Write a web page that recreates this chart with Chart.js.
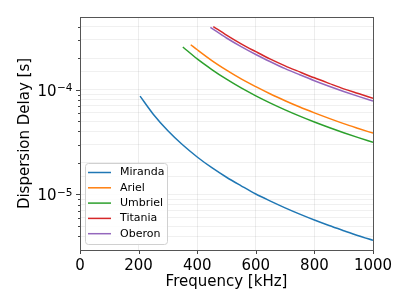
<!DOCTYPE html>
<html>
<head>
<meta charset="utf-8">
<script src="https://cdn.jsdelivr.net/npm/chart.js@4.4.1/dist/chart.umd.min.js"></script>
<style>
  html, body { margin: 0; padding: 0; background: #fff; }
</style>
</head>
<body>
<canvas id="chart" width="411" height="308"></canvas>
<script>
// values (frequency in kHz, delay in s)
const mirandaFreq  = [205, 250, 300, 350, 400, 450, 500, 550, 600, 650, 700, 750, 800, 850, 900, 950, 1000];
const mirandaDelay = [8.69e-5, 5.84e-5, 4.06e-5, 2.98e-5, 2.28e-5, 1.80e-5, 1.46e-5, 1.21e-5, 1.01e-5, 8.64e-6, 7.45e-6, 6.49e-6, 5.70e-6, 5.05e-6, 4.51e-6, 4.04e-6, 3.65e-6];

const arielFreq  = [378, 400, 450, 500, 550, 600, 650, 700, 750, 800, 850, 900, 950, 1000];
const arielDelay = [2.69e-4, 2.41e-4, 1.90e-4, 1.54e-4, 1.27e-4, 1.07e-4, 9.11e-5, 7.86e-5, 6.84e-5, 6.02e-5, 5.33e-5, 4.75e-5, 4.27e-5, 3.85e-5];

const umbrielFreq  = [351, 400, 450, 500, 550, 600, 650, 700, 750, 800, 850, 900, 950, 1000];
const umbrielDelay = [2.56e-4, 1.97e-4, 1.56e-4, 1.26e-4, 1.04e-4, 8.75e-5, 7.46e-5, 6.43e-5, 5.60e-5, 4.92e-5, 4.36e-5, 3.89e-5, 3.49e-5, 3.15e-5];

const titaniaFreq  = [455, 500, 550, 600, 650, 700, 750, 800, 850, 900, 950, 1000];
const titaniaDelay = [4.01e-4, 3.32e-4, 2.74e-4, 2.31e-4, 1.96e-4, 1.69e-4, 1.48e-4, 1.30e-4, 1.15e-4, 1.02e-4, 9.20e-5, 8.30e-5];

const oberonFreq  = [445, 500, 550, 600, 650, 700, 750, 800, 850, 900, 950, 1000];
const oberonDelay = [3.94e-4, 3.12e-4, 2.58e-4, 2.17e-4, 1.85e-4, 1.59e-4, 1.39e-4, 1.22e-4, 1.08e-4, 9.63e-5, 8.64e-5, 7.80e-5];

const moonNames = ["Miranda", "Ariel", "Umbriel", "Titania", "Oberon"];
const moonColors = ["#1f77b4", "#ff7f0e", "#2ca02c", "#d62728", "#9467bd"];

const xTicks = [0, 200, 400, 600, 800, 1000];
const yDecades = [-4, -5];   // labelled as 10^-4, 10^-5

const FONT = "'DejaVu Sans', sans-serif";

function pts(xs, ys) {
  return xs.map((x, i) => ({ x: x, y: ys[i] }));
}

const series = [
  pts(mirandaFreq, mirandaDelay),
  pts(arielFreq, arielDelay),
  pts(umbrielFreq, umbrielDelay),
  pts(titaniaFreq, titaniaDelay),
  pts(oberonFreq, oberonDelay)
];

function isDecade(v) {
  const e = Math.log10(v);
  return Math.abs(e - Math.round(e)) < 1e-6;
}
function isRoundMultiple(v) {
  const e = Math.floor(Math.log10(v) + 1e-9);
  const s = v / Math.pow(10, e);
  return Math.abs(s - Math.round(s)) < 1e-6;
}

// frame, tick marks, y tick labels and the legend box
const framePlugin = {
  id: "frame",
  afterDraw(chart) {
    const ctx = chart.ctx;
    const a = chart.chartArea;
    const xs = chart.scales.x, ys = chart.scales.y;
    ctx.save();
    ctx.strokeStyle = "#444";
    ctx.lineWidth = 1;
    // tick marks
    ctx.beginPath();
    xs.ticks.forEach(t => {
      const px = Math.round(xs.getPixelForValue(t.value)) + 0.5;
      ctx.moveTo(px, a.bottom);
      ctx.lineTo(px, a.bottom + 4);
    });
    ys.ticks.forEach(t => {
      if (!isRoundMultiple(t.value)) return;
      const py = Math.round(ys.getPixelForValue(t.value)) + 0.5;
      const len = isDecade(t.value) ? 4 : 2;
      ctx.moveTo(a.left, py);
      ctx.lineTo(a.left - len, py);
    });
    ctx.stroke();
    ctx.strokeStyle = "#555";
    ctx.strokeRect(Math.round(a.left) + 0.5, Math.round(a.top) + 0.5,
      Math.round(a.right - a.left), Math.round(a.bottom - a.top));

    // y tick labels: 10 with a superscript exponent
    ctx.fillStyle = "#000";
    ctx.textBaseline = "alphabetic";
    ctx.textAlign = "left";
    yDecades.forEach(e => {
      const py = ys.getPixelForValue(Math.pow(10, e));
      const sup = "\u2212" + Math.abs(e);
      ctx.font = "10.5px " + FONT;
      const supW = ctx.measureText(sup).width;
      ctx.font = "15px " + FONT;
      const baseW = ctx.measureText("10").width;
      const right = a.left - 8;
      const x0 = right - supW - baseW;
      ctx.fillText("10", x0, py + 6);
      ctx.font = "10.5px " + FONT;
      ctx.fillText(sup, x0 + baseW + 0.5, py + 1.3);
    });

    // legend
    const lx = a.left + 5, ly = a.bottom - 87, lw = 82, lh = 81;
    ctx.fillStyle = "rgba(255,255,255,0.85)";
    ctx.strokeStyle = "#d0d0d0";
    ctx.beginPath();
    ctx.roundRect(lx + 0.5, ly + 0.5, lw, lh, 3);
    ctx.fill();
    ctx.stroke();
    ctx.font = "11px " + FONT;
    ctx.textBaseline = "middle";
    chart.data.datasets.forEach((ds, i) => {
      const y = ly + 9.5 + i * 15.3;
      ctx.strokeStyle = ds.borderColor;
      ctx.lineWidth = 1.5;
      ctx.beginPath();
      ctx.moveTo(lx + 3, y);
      ctx.lineTo(lx + 26, y);
      ctx.stroke();
      ctx.fillStyle = "#000";
      ctx.fillText(ds.label, lx + 35, y);
    });
    ctx.restore();
  }
};

new Chart(document.getElementById("chart"), {
  type: "line",
  data: {
    datasets: series.map((d, i) => ({
      label: moonNames[i],
      data: d,
      borderColor: moonColors[i],
      backgroundColor: moonColors[i],
      borderWidth: 1.5,
      pointRadius: 0,
      cubicInterpolationMode: "monotone",
      fill: false
    }))
  },
  options: {
    responsive: false,
    animation: false,
    layout: { padding: { left: 0, right: 38, top: 17, bottom: 0 } },
    plugins: { legend: { display: false }, tooltip: { enabled: false } },
    scales: {
      x: {
        type: "linear",
        min: 0,
        max: 1000,
        afterBuildTicks: s => { s.ticks = xTicks.map(v => ({ value: v })); },
        afterFit: s => { s.height = 58; },
        grid: { color: "rgba(0,0,0,0.07)", drawTicks: false },
        border: { display: false },
        ticks: { color: "#000", font: { family: FONT, size: 15 }, padding: 7, maxRotation: 0,
                 callback: v => String(v) },
        title: { display: true, text: "Frequency [kHz]", color: "#000",
                 font: { family: FONT, size: 15 }, padding: { top: 17, bottom: 17 } }
      },
      y: {
        type: "logarithmic",
        min: 2.95e-6,
        max: 4.95e-4,
        afterFit: s => { s.width = 80; },
        grid: { color: "rgba(0,0,0,0.06)", drawTicks: false },
        border: { display: false },
        ticks: { display: false, autoSkip: false },
        title: { display: true, text: "Dispersion Delay [s]", color: "#000",
                 font: { family: FONT, size: 15 }, padding: { top: 16, bottom: 16 } }
      }
    }
  },
  plugins: [framePlugin]
});
</script>
</body>
</html>
